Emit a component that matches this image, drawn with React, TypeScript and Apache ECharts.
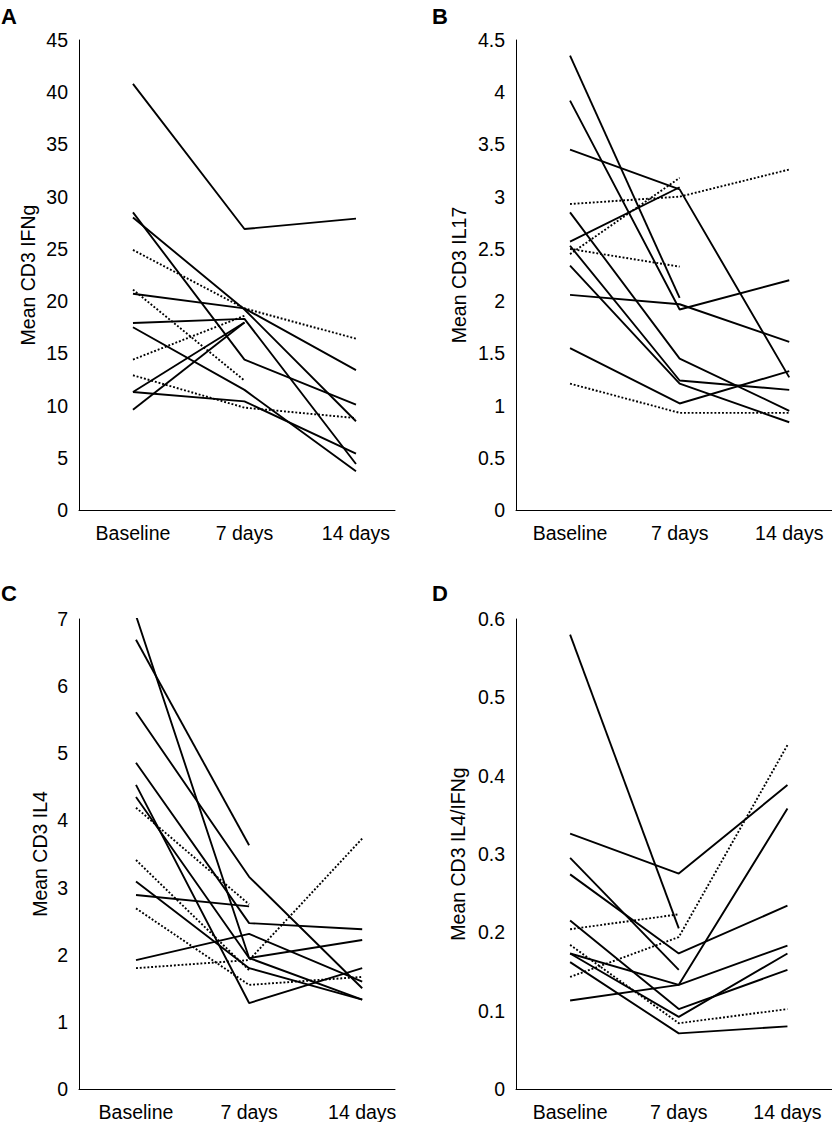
import React, { useEffect, useRef } from "react";
import * as echarts from "echarts";

const timepoints = ["Baseline", "7 days", "14 days"];

// Panel A: Mean CD3 IFNg
const ifngSolid = [
  [40.8, 26.9, 27.9],
  [28.5, 14.4, 10.1],
  [28.0, 19.2, 8.5],
  [20.7, 19.3, 13.4],
  [17.9, 18.3, 4.4],
  [17.5, 11.5, 3.7],
  [11.3, 10.4, 5.4],
  [11.3, 17.95, null],
  [9.6, 17.95, null],
];
const ifngDotted = [
  [24.9, 19.3, 16.4],
  [21.1, 12.4, null],
  [14.4, 18.6, null],
  [12.9, 9.8, 8.8],
];

// Panel B: Mean CD3 IL17
const il17Solid = [
  [4.35, 2.03, null],
  [3.92, 1.92, 2.2],
  [3.45, 3.07, 1.27],
  [2.85, 1.45, 0.95],
  [2.57, 3.09, null],
  [2.53, 1.24, 1.15],
  [2.34, 1.21, 0.84],
  [2.06, 1.97, 1.61],
  [1.55, 1.02, 1.33],
];
const il17Dotted = [
  [2.93, 3.0, 3.26],
  [2.5, 2.33, null],
  [2.45, 3.18, null],
  [1.21, 0.93, 0.93],
];

// Panel C: Mean CD3 IL4
const il4Solid = [
  [7.05, 1.95, 2.22],
  [6.69, 3.63, null],
  [5.61, 3.16, 1.5],
  [4.86, 2.47, 2.38],
  [4.53, 1.28, 1.8],
  [4.35, 1.95, 1.33],
  [3.09, 1.8, 1.33],
  [2.89, 2.72, null],
  [1.92, 2.31, 1.6],
];
const il4Dotted = [
  [4.19, 2.75, null],
  [3.41, 1.77, null],
  [2.69, 1.55, 1.67],
  [1.8, 1.92, 3.73],
];

// Panel D: Mean CD3 IL4/IFNg
const ratioSolid = [
  [0.58, 0.205, null],
  [0.326, 0.275, 0.388],
  [0.295, 0.152, null],
  [0.274, 0.173, 0.234],
  [0.215, 0.102, 0.152],
  [0.173, 0.133, 0.183],
  [0.173, 0.092, 0.173],
  [0.162, 0.071, 0.08],
  [0.113, 0.133, 0.358],
];
const ratioDotted = [
  [0.204, 0.223, null],
  [0.143, 0.194, 0.439],
  [0.184, 0.084, 0.102],
];

const FONT = "'Liberation Sans', Arial, Helvetica, sans-serif";

const panels = [
  { letter: "A", yName: "Mean CD3 IFNg", yMax: 45, yInterval: 5, solid: ifngSolid, dotted: ifngDotted,
    grid: { left: 79, top: 40, width: 316, height: 470 }, xMin: -0.484, xMax: 2.35, nameGap: 41, lx: 1, ly: 5 },
  { letter: "B", yName: "Mean CD3 IL17", yMax: 4.5, yInterval: 0.5, solid: il17Solid, dotted: il17Dotted,
    grid: { left: 516, top: 40, width: 316, height: 470 }, xMin: -0.493, xMax: 2.39, nameGap: 47.5, lx: 432, ly: 5 },
  { letter: "C", yName: "Mean CD3 IL4", yMax: 7, yInterval: 1, solid: il4Solid, dotted: il4Dotted,
    grid: { left: 79, top: 619, width: 316, height: 470 }, xMin: -0.504, xMax: 2.29, nameGap: 29.5, lx: 1, ly: 582 },
  { letter: "D", yName: "Mean CD3 IL4/IFNg", yMax: 0.6, yInterval: 0.1, solid: ratioSolid, dotted: ratioDotted,
    grid: { left: 516, top: 619, width: 316, height: 470 }, xMin: -0.498, xMax: 2.41, nameGap: 48, lx: 432, ly: 582 },
];

function toPoints(row: (number | null)[]) {
  const pts: number[][] = [];
  row.forEach((v, k) => {
    if (v !== null && v !== undefined) pts.push([k, v]);
  });
  return pts;
}

export default function App() {
  const ref = useRef<HTMLDivElement>(null);
  useEffect(() => {
    document.body.style.margin = "0";
    if (!ref.current) return;
    const chart = echarts.init(ref.current, null, { renderer: "svg" });

    const grids: any[] = [];
    const xAxes: any[] = [];
    const yAxes: any[] = [];
    const series: any[] = [];
    const graphics: any[] = [];

    panels.forEach((p, i) => {
      grids.push({ ...p.grid, containLabel: false });
      xAxes.push({
        type: "value",
        gridIndex: i,
        min: p.xMin,
        max: p.xMax,
        axisLine: { show: true, onZero: false, lineStyle: { color: "#000", width: 1 } },
        axisTick: { show: false },
        splitLine: { show: false },
        axisLabel: {
          customValues: [0, 1, 2],
          formatter: (v: number) => timepoints[Math.round(v)] ?? "",
          color: "#000",
          fontSize: 19.5,
          fontFamily: FONT,
          margin: 13,
        },
      });
      yAxes.push({
        type: "value",
        gridIndex: i,
        min: 0,
        max: p.yMax,
        interval: p.yInterval,
        axisLine: { show: true, onZero: false, lineStyle: { color: "#000", width: 1 } },
        axisTick: { show: false },
        splitLine: { show: false },
        axisLabel: { color: "#000", fontSize: 19.5, fontFamily: FONT, margin: 11 },
        name: p.yName,
        nameLocation: "middle",
        nameGap: p.nameGap,
        nameTextStyle: { color: "#000", fontSize: 19.5, fontFamily: FONT },
      });
      p.solid.forEach((row) => {
        series.push({
          type: "line",
          xAxisIndex: i,
          yAxisIndex: i,
          data: toPoints(row),
          symbol: "none",
          silent: true,
          lineStyle: { color: "#000", width: 1.9, type: "solid" },
        });
      });
      p.dotted.forEach((row) => {
        series.push({
          type: "line",
          xAxisIndex: i,
          yAxisIndex: i,
          data: toPoints(row),
          symbol: "none",
          silent: true,
          lineStyle: { color: "#000", width: 1.9, type: [1.9, 1.9] },
        });
      });
      graphics.push({
        type: "text",
        left: p.lx,
        top: p.ly,
        style: { text: p.letter, fontSize: 22, fontWeight: "bold", fontFamily: FONT, fill: "#000" },
      });
    });

    chart.setOption({
      animation: false,
      backgroundColor: "#fff",
      grid: grids,
      xAxis: xAxes,
      yAxis: yAxes,
      series,
      graphic: graphics,
    });
    return () => chart.dispose();
  }, []);
  return <div ref={ref} style={{ width: 832, height: 1122 }} />;
}
